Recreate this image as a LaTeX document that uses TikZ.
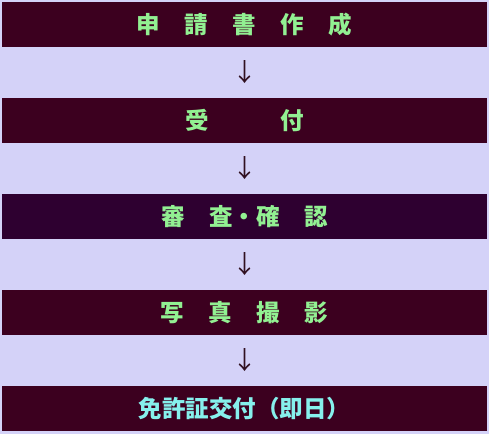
\documentclass[tikz,border=0pt]{standalone}
\usepackage{fontspec}
\usepackage{xcolor}
\setmainfont{Noto Sans CJK JP}
\usetikzlibrary{positioning}

\definecolor{bgpaper}{HTML}{D4D2F8}
\definecolor{stagefill}{HTML}{3C001F}
\definecolor{checkfill}{HTML}{2E0030}
\definecolor{stagetext}{HTML}{92F092}
\definecolor{lasttext}{HTML}{86F0EC}
\definecolor{arrowtext}{HTML}{301020}

\newcommand{\gapjp}{\hspace{24.5pt}}

\begin{document}
\begin{tikzpicture}[
    x=1pt, y=-1pt,
    stage/.style={rectangle, fill=stagefill, minimum width=485pt, minimum height=45pt, inner sep=0pt, text=stagetext, font=\fontsize{23.5}{23.5}\selectfont\bfseries},
    arrowmark/.style={inner sep=0pt, text=arrowtext, font=\fontsize{25}{25}\selectfont}
]
    % Background
    \useasboundingbox[fill=bgpaper] (0,0) rectangle (489,434);

    % Stages
    \node[stage] (apply) at (244.5, 24.5) {申\gapjp 請\gapjp 書\gapjp 作\gapjp 成};
    \node[stage] (accept) at (244.5, 120.5) {受\hspace{71.5pt}付};
    \node[stage, fill=checkfill] (check) at (244.5, 216.5) {審\gapjp 査・確\gapjp 認};
    \node[stage] (photo) at (244.5, 312.5) {写\gapjp 真\gapjp 撮\gapjp 影};
    \node[stage, text=lasttext] (issue) at (244.5, 408.5) {免許証交付（即日）};

    % Arrows
    \node[arrowmark] (arrA) at (244.5, 72.5) {↓};
    \node[arrowmark] (arrB) at (244.5, 168.5) {↓};
    \node[arrowmark] (arrC) at (244.5, 264.5) {↓};
    \node[arrowmark] (arrD) at (244.5, 360.5) {↓};
\end{tikzpicture}
\end{document}
